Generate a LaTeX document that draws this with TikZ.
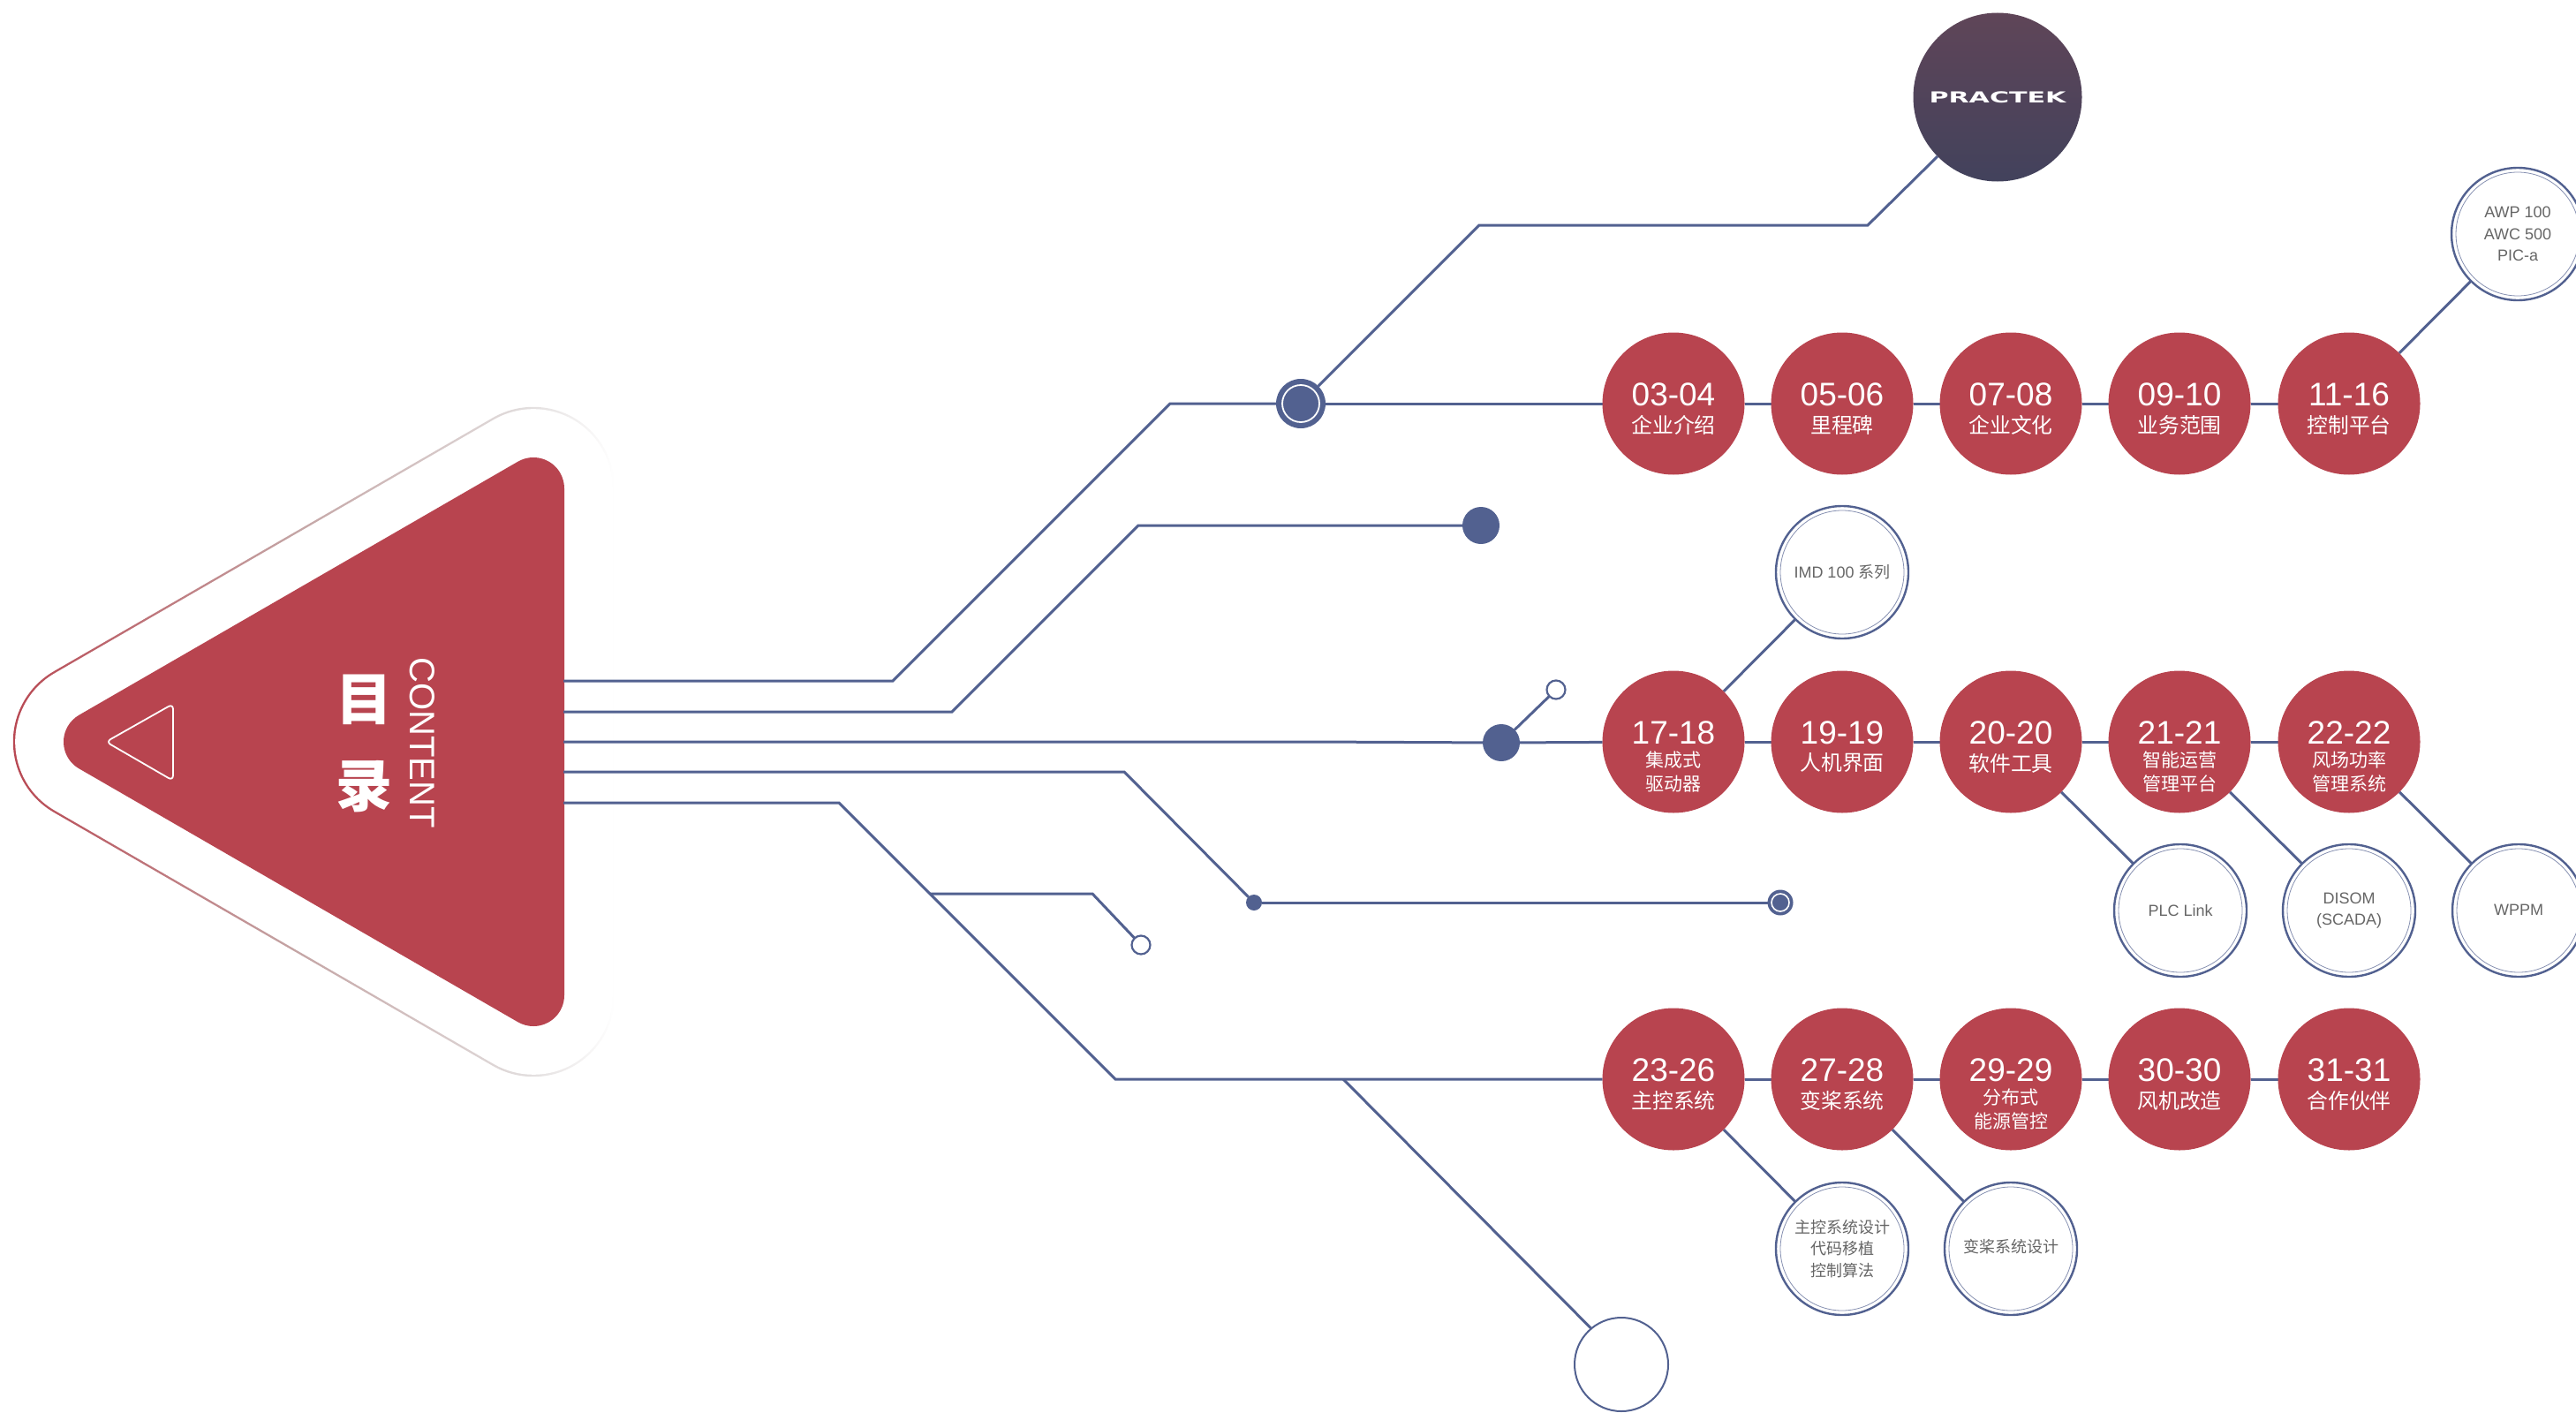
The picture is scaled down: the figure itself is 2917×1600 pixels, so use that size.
\documentclass[tikz,border=0pt]{standalone}
\usepackage{fontspec}
\usepackage{graphicx}
\setmainfont{Liberation Sans}
\newfontfamily\cjk{Noto Sans CJK SC}
\newfontfamily\logofont{DejaVu Sans}
\usetikzlibrary{backgrounds,calc}
\definecolor{brandred}{HTML}{B8444F}
\definecolor{navy}{HTML}{526190}
\definecolor{greytext}{HTML}{666666}
\definecolor{logotop}{HTML}{5F4558}
\definecolor{logobot}{HTML}{42425C}
\pgfdeclarehorizontalshading{ringfade}{100bp}{rgb(0bp)=(.72,.267,.31); rgb(25bp)=(.72,.267,.31); rgb(49bp)=(.769,.647,.647); rgb(68bp)=(.886,.87,.87); rgb(75bp)=(1,1,1); rgb(100bp)=(1,1,1)}
\tikzset{
  redc/.style={circle,fill=brandred,inner sep=0pt,outer sep=0pt,minimum size=80.5pt},
  sat/.style={circle,draw=navy,line width=1.2pt,fill=white,inner sep=0pt,outer sep=0pt,minimum size=75pt,text=greytext,align=center,font=\fontsize{9}{12.2}\selectfont},
  satin/.style={draw=navy!70,line width=0.4pt},
  numtxt/.style={text=white,inner sep=0pt,font=\fontsize{18.5}{18.5}\selectfont},
  labtxt/.style={text=white,inner sep=0pt,font=\fontsize{11.9}{11.9}\selectfont\cjk},
  smalltxt/.style={text=white,inner sep=0pt,font=\fontsize{10.5}{10.5}\selectfont\cjk},
  wire/.style={draw=navy,line width=1.5pt,line join=miter},
  dotfill/.style={circle,fill=navy,inner sep=0pt,outer sep=0pt},
  opendot/.style={circle,draw=navy,line width=1.1pt,fill=white,inner sep=0pt,outer sep=0pt,minimum size=10.5pt},
}
\newcommand{\redone}[5]{%
  \node[redc] (#1) at (#2,#3) {};
  \node[numtxt] (#1n) at (#2,#3-10.5) {#4};
  \node[labtxt] (#1l) at (#2,#3+24) {#5};
}
\newcommand{\redtwo}[6]{%
  \node[redc] (#1) at (#2,#3) {};
  \node[numtxt] (#1n) at (#2,#3-10.5) {#4};
  \node[smalltxt] (#1a) at (#2,#3+20.5) {#5};
  \node[smalltxt] (#1b) at (#2,#3+47.5) {#6};
}
\newcommand{\satnode}[4]{%
  \node[sat] (#1) at (#2,#3) {#4};
  \draw[satin] (#1) circle [radius=35pt];
}
\newcommand{\tripath}[1]{%
  ([shift={(120:#1)}]107,840) -- ([shift={(120:#1)}]604,553)
  arc[start angle=120,end angle=0,radius=#1]
  -- ([shift={(0:#1)}]604,1127)
  arc[start angle=0,end angle=-120,radius=#1]
  -- ([shift={(-120:#1)}]107,840)
  arc[start angle=240,end angle=120,radius=#1] -- cycle
}
\begin{document}
\begin{tikzpicture}[x=0.5pt,y=-0.5pt]
\useasboundingbox (0,0) rectangle (2917,1600);

% title text in the triangle
\node[text=white,inner sep=0pt,font=\fontsize{32}{32}\selectfont\cjk\bfseries] (mu) at (412,792) {目};
\node[text=white,inner sep=0pt,font=\fontsize{32}{32}\selectfont\cjk\bfseries] (lu) at (412,891) {录};
\node[text=white,inner sep=0pt,rotate=-90,font=\fontsize{20}{20}\selectfont] (content) at (478,841) {CONTENT};

% logo
\node[circle,inner sep=0pt,outer sep=0pt,minimum size=95.5pt,top color=logotop,bottom color=logobot] (logo) at (2262,110) {};
\node[text=white,inner sep=0pt,font=\fontsize{8.6}{8.6}\selectfont\logofont\bfseries] (logot) at (2262,110) {\scalebox{1.75}[1]{PRACTEK}};

% row 1
\redone{a1}{1895}{457}{03-04}{企业介绍}
\redone{a2}{2086}{457}{05-06}{里程碑}
\redone{a3}{2277}{457}{07-08}{企业文化}
\redone{a4}{2468}{457}{09-10}{业务范围}
\redone{a5}{2660}{457}{11-16}{控制平台}
% row 2
\redtwo{b1}{1895}{840}{17-18}{集成式}{驱动器}
\redone{b2}{2086}{840}{19-19}{人机界面}
\redone{b3}{2277}{840}{20-20}{软件工具}
\redtwo{b4}{2468}{840}{21-21}{智能运营}{管理平台}
\redtwo{b5}{2660}{840}{22-22}{风场功率}{管理系统}
% row 3
\redone{c1}{1895}{1222}{23-26}{主控系统}
\redone{c2}{2086}{1222}{27-28}{变桨系统}
\redtwo{c3}{2277}{1222}{29-29}{分布式}{能源管控}
\redone{c4}{2468}{1222}{30-30}{风机改造}
\redone{c5}{2660}{1222}{31-31}{合作伙伴}

% satellites
\satnode{awp}{2851}{265}{AWP 100\\AWC 500\\PIC-a}
\satnode{imd}{2086}{648}{IMD 100 {\cjk 系列}}
\satnode{plc}{2469}{1031}{\raisebox{0.5pt}{PLC Link}}
\satnode{disom}{2660}{1031}{\raisebox{0.5pt}{DISOM}\\\raisebox{0.5pt}{(SCADA)}}
\satnode{wppm}{2852}{1031}{\raisebox{0.5pt}{WPPM}}
\satnode{zk}{2086}{1414}{\fontsize{9}{13.4}\selectfont\cjk\raisebox{0pt}{主控系统设计}\\\cjk 代码移植\\\cjk 控制算法}
\satnode{bj}{2277}{1414}{\raisebox{3pt}{\cjk 变桨系统设计}}
\node[circle,draw=navy,line width=1pt,fill=white,inner sep=0pt,outer sep=0pt,minimum size=53pt] (empty) at (1836,1545) {};

% junction dots
\node[dotfill,minimum size=28pt] (ring) at (1473,457) {};
\draw[white,line width=0.9pt] (ring) circle [radius=10.5pt];
\node[dotfill,minimum size=21pt] (d2) at (1677,595) {};
\node[dotfill,minimum size=21pt] (d3) at (1700,841) {};
\node[opendot] (o3) at (1762,781) {};
\node[dotfill,minimum size=9pt] (d4) at (1420,1022) {};
\node[dotfill,minimum size=14.5pt] (e4) at (2016,1022) {};
\draw[white,line width=0.8pt] (e4) circle [radius=5pt];
\node[opendot] (o5) at (1292,1070) {};

\coordinate (s1) at (638,771);
\coordinate (s2) at (638,806);
\coordinate (s3) at (638,840);
\coordinate (s4) at (638,874);
\coordinate (s5) at (638,909);
\coordinate (j5) at (1053,1012);
\coordinate (j6) at (1521,1222);

\begin{scope}[on background layer]
  % triangle
  \shade[shading=ringfade] \tripath{46.1pt};
  \fill[white] \tripath{44.9pt};
  \fill[brandred] \tripath{17.5pt};
  \draw[white,line width=0.9pt,rounded corners=3pt] (120,840) -- (196,797) -- (196,884) -- cycle;
  % wires
  \draw[wire] (s1) -- (1011,771) -- (1325,457) -- (ring);
  \draw[wire] (ring) -- (1675,255) -- (2115,255) -- (logo);
  \draw[wire] (ring) -- (a1);
  \draw[wire] (s2) -- (1078,806) -- (1289,595) -- (d2);
  \draw[wire] (s3) -- (1484,840) -- (d3);
  \draw[wire] (d3) -- (o3);
  \draw[wire] (d3) -- (b1);
  \draw[wire] (s4) -- (1273,874) -- (d4);
  \draw[wire] (d4) -- (e4);
  \draw[wire] (s5) -- (950,909) -- (1263,1222) -- (c1);
  \draw[wire] (j5) -- (1237,1012) -- (o5);
  \draw[wire] (j6) -- (empty.130);
  \draw[wire] (a1) -- (a2); \draw[wire] (a2) -- (a3); \draw[wire] (a3) -- (a4); \draw[wire] (a4) -- (a5);
  \draw[wire] (b1) -- (b2); \draw[wire] (b2) -- (b3); \draw[wire] (b3) -- (b4); \draw[wire] (b4) -- (b5);
  \draw[wire] (c1) -- (c2); \draw[wire] (c2) -- (c3); \draw[wire] (c3) -- (c4); \draw[wire] (c4) -- (c5);
  \draw[wire] (a5) -- (awp);
  \draw[wire] (b1) -- (imd);
  \draw[wire] (b3) -- (plc);
  \draw[wire] (b4) -- (disom);
  \draw[wire] (b5) -- (wppm);
  \draw[wire] (c1) -- (zk);
  \draw[wire] (c2) -- (bj);
\end{scope}
\end{tikzpicture}
\end{document}
